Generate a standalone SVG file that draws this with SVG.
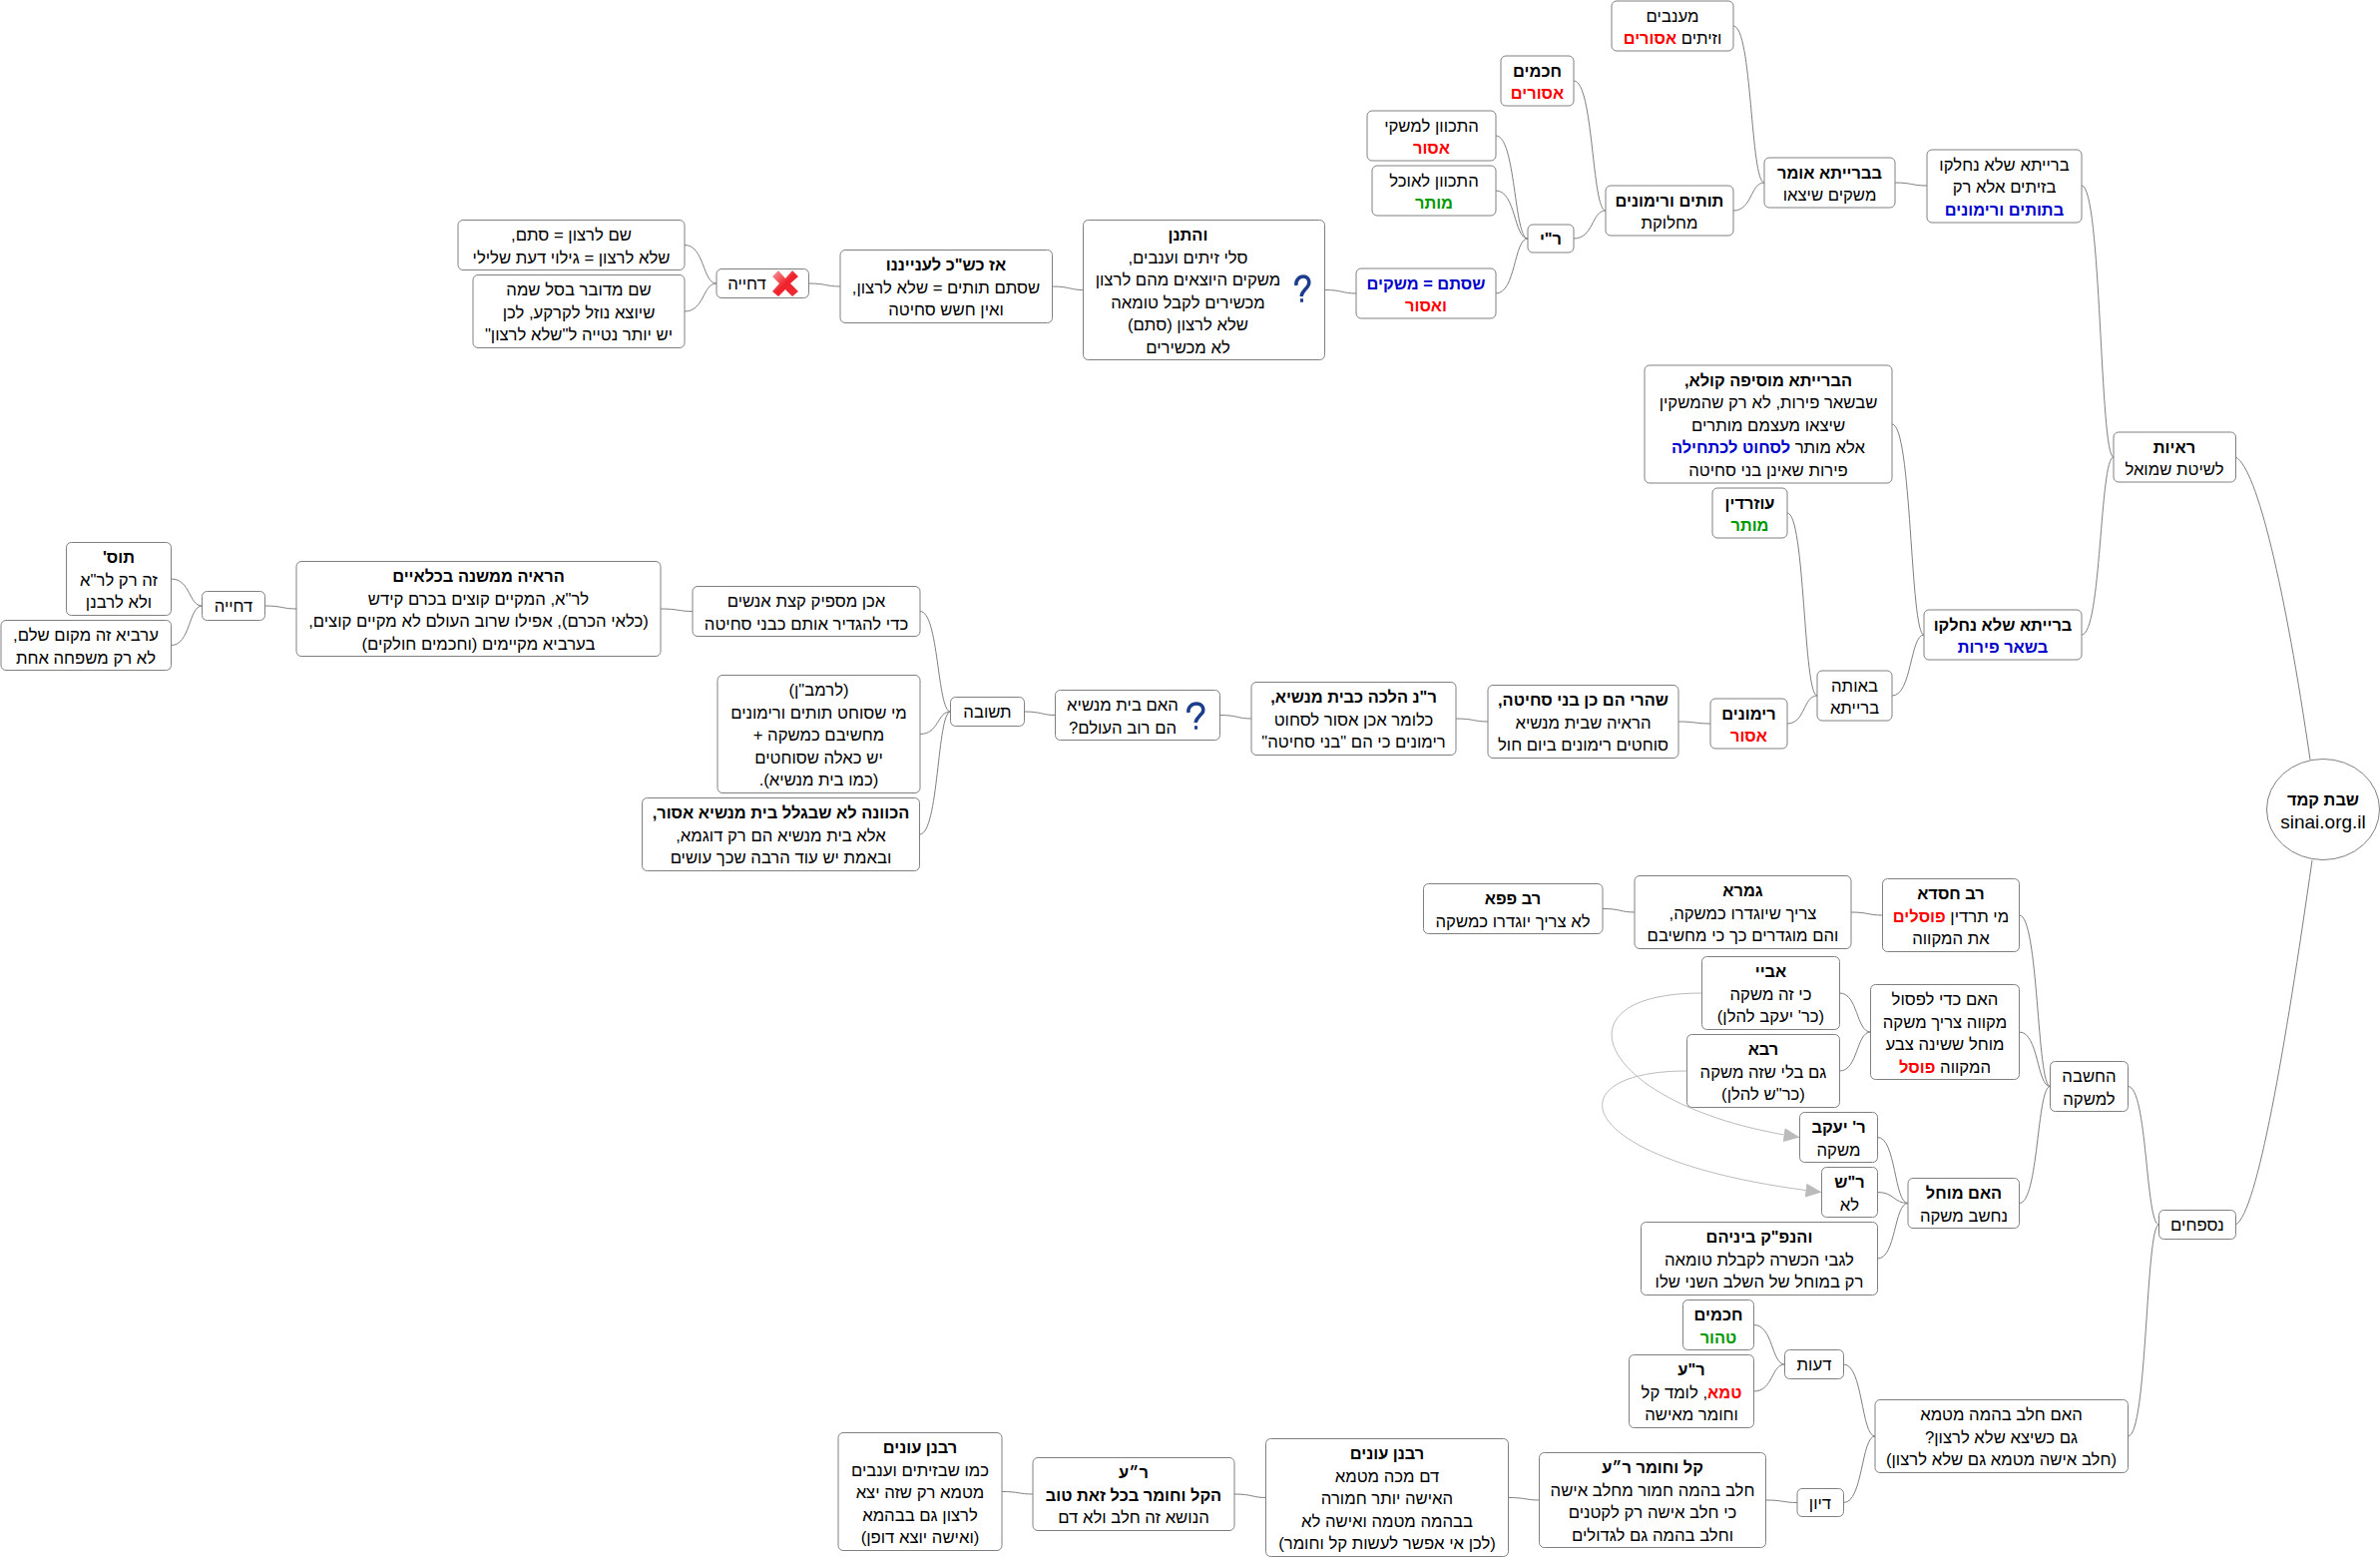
<svg xmlns="http://www.w3.org/2000/svg" width="2385" height="1560" viewBox="0 0 2385 1560">
<defs>
<style>
text{font-family:"Liberation Sans",Arial,sans-serif;font-size:16.7px;fill:#000;text-anchor:middle;direction:rtl;transform:translateY(-1px)}
.b{font-weight:bold;font-size:16.4px}
.r{fill:#f00}
.g{fill:#090}
.u{fill:#00c}
.n{fill:#fff;stroke:#808080;stroke-width:1}
.c{fill:none;stroke:#808080;stroke-width:1}
.a{fill:none;stroke:#bbb;stroke-width:1}
</style>
<marker id="ah" markerUnits="userSpaceOnUse" markerWidth="16" markerHeight="14" refX="16" refY="7" orient="auto"><path d="M0 0L16 7L0 14Z" fill="#bbb"/></marker>
<linearGradient id="xg" x1="0" y1="0" x2="1" y2="1"><stop offset="0" stop-color="#f6a0a6"/><stop offset="0.5" stop-color="#f0222c"/><stop offset="1" stop-color="#e8303a"/></linearGradient>
</defs>
<rect width="2385" height="1560" fill="#fff"/>
<g id="connectors">
<path class="c" d="M1737 26C1756 26 1754 183 1768 183"/>
<path class="c" d="M1737 211C1756 211 1754 183 1768 183"/>
<path class="c" d="M1577 81C1597 81 1595 211 1609 211"/>
<path class="c" d="M1577 239C1597 239 1595 211 1609 211"/>
<path class="c" d="M1499 136C1519 136 1517 239 1531 239"/>
<path class="c" d="M1499 191C1519 191 1517 239 1531 239"/>
<path class="c" d="M1499 294C1519 294 1517 239 1531 239"/>
<path class="c" d="M1899 183C1916 183 1916 186 1931 186"/>
<path class="c" d="M2086 186C2106 186 2104 458 2118 458"/>
<path class="c" d="M2086 636C2106 636 2104 458 2118 458"/>
<path class="c" d="M1896 425C1916 425 1914 636 1928 636"/>
<path class="c" d="M1896 697C1916 697 1914 636 1928 636"/>
<path class="c" d="M1791 514C1809 514 1807 697 1821 697"/>
<path class="c" d="M1791 725C1809 725 1807 697 1821 697"/>
<path class="c" d="M1682 723C1699 723 1699 725 1714 725"/>
<path class="c" d="M1459 720C1477 720 1477 723 1491 723"/>
<path class="c" d="M1222.5 716.5C1240 716.5 1240 720 1254 720"/>
<path class="c" d="M1026.5 713C1044 713 1044 716.5 1057.5 716.5"/>
<path class="c" d="M922 612.5C941 612.5 939 713 952.5 713"/>
<path class="c" d="M922 735.5C941 735.5 939 713 952.5 713"/>
<path class="c" d="M921.5 836C941 836 939 713 952.5 713"/>
<path class="c" d="M662 610C680 610 680 612.5 694 612.5"/>
<path class="c" d="M265.5 607C283 607 283 610 297 610"/>
<path class="c" d="M171.5 580C191 580 189 607 202.5 607"/>
<path class="c" d="M171.5 646.5C191 646.5 189 607 202.5 607"/>
<path class="c" d="M1327.5 290.5C1345 290.5 1345 294 1359 294"/>
<path class="c" d="M1054.5 287C1072 287 1072 290.5 1085.5 290.5"/>
<path class="c" d="M810.5 284C828 284 828 287 842 287"/>
<path class="c" d="M686 245.5C706 245.5 704 284 718 284"/>
<path class="c" d="M686 312C706 312 704 284 718 284"/>
<path class="c" d="M2023.5 917C2043 917 2041 1088.5 2054.5 1088.5"/>
<path class="c" d="M2023.5 1034C2043 1034 2041 1088.5 2054.5 1088.5"/>
<path class="c" d="M2023.5 1205.5C2043 1205.5 2041 1088.5 2054.5 1088.5"/>
<path class="c" d="M1855 914C1872 914 1872 917 1886.5 917"/>
<path class="c" d="M1606 910.5C1624 910.5 1624 914 1638 914"/>
<path class="c" d="M1843.5 995C1862 995 1860 1034 1874.5 1034"/>
<path class="c" d="M1843.5 1073C1862 1073 1860 1034 1874.5 1034"/>
<path class="c" d="M1881.5 1139.5C1900 1139.5 1898 1205.5 1912 1205.5"/>
<path class="c" d="M1881.5 1194.5C1898 1194.5 1898 1205.5 1912 1205.5"/>
<path class="c" d="M1881.5 1261C1900 1261 1898 1205.5 1912 1205.5"/>
<path class="c" d="M2132.5 1088.5C2152 1088.5 2150 1227 2163.5 1227"/>
<path class="c" d="M2132.5 1439C2152 1439 2150 1227 2163.5 1227"/>
<path class="c" d="M1847.5 1367C1867 1367 1865 1439 1879 1439"/>
<path class="c" d="M1847.5 1505.5C1867 1505.5 1865 1439 1879 1439"/>
<path class="c" d="M1757.5 1327.5C1777 1327.5 1775 1367 1788.5 1367"/>
<path class="c" d="M1757.5 1394C1777 1394 1775 1367 1788.5 1367"/>
<path class="c" d="M1769.5 1503C1787 1503 1787 1505.5 1801 1505.5"/>
<path class="c" d="M1511.5 1500.5C1529 1500.5 1529 1503 1542.5 1503"/>
<path class="c" d="M1237 1497C1255 1497 1255 1500.5 1268.5 1500.5"/>
<path class="c" d="M1004 1494.5C1021 1494.5 1021 1497 1035 1497"/>
<path class="c" d="M2240.5 458C2262 470 2290 590 2315 761"/>
<path class="c" d="M2240.5 1227C2262 1215 2290 1050 2317 862"/>
<path class="a" marker-end="url(#ah)" d="M1705.5 995C1550 995 1603 1110 1803.5 1139.5"/>
<path class="a" marker-end="url(#ah)" d="M1690.5 1073C1553 1073 1572 1165 1825.5 1194.5"/>
</g>
<g id="root"><ellipse class="n" cx="2328" cy="811" rx="56.5" ry="50.5"/><text class="b" x="2328" y="808">שבת קמד</text><text x="2328" y="831" style="direction:ltr;font-size:19px">sinai.org.il</text></g>
<g id="n1"><rect class="n" x="1615" y="1" width="122" height="50" rx="5"/><text x="1676" y="22.5">מענבים</text><text x="1676" y="45">וזיתים <tspan class="r b">אסורים</tspan></text></g>
<g id="n2"><rect class="n" x="1504" y="56" width="73" height="50" rx="5"/><text class="b" x="1540.5" y="77.5">חכמים</text><text class="r b" x="1540.5" y="100">אסורים</text></g>
<g id="n3"><rect class="n" x="1370" y="111" width="129" height="50" rx="5"/><text x="1434.5" y="132.5">התכוון למשקי</text><text class="r b" x="1434.5" y="155">אסור</text></g>
<g id="n4"><rect class="n" x="1375" y="166" width="124" height="50" rx="5"/><text x="1437" y="187.5">התכוון לאוכל</text><text class="g b" x="1437" y="210">מותר</text></g>
<g id="n5"><rect class="n" x="1531" y="225" width="46" height="28" rx="5"/><text class="b" x="1554" y="245.5">ר"י</text></g>
<g id="n6"><rect class="n" x="1609" y="186" width="128" height="50" rx="5"/><text class="b" x="1673" y="207.5">תותים ורימונים</text><text x="1673" y="230">מחלוקת</text></g>
<g id="n7"><rect class="n" x="1768" y="158" width="131" height="50" rx="5"/><text class="b" x="1833.5" y="179.5">בברייתא אומר</text><text x="1833.5" y="202">משקים שיצאו</text></g>
<g id="n8"><rect class="n" x="1931" y="150" width="155" height="73" rx="5"/><text x="2008.5" y="171.5">ברייתא שלא נחלקו</text><text x="2008.5" y="194">בזיתים אלא רק</text><text class="u b" x="2008.5" y="216.5">בתותים ורימונים</text></g>
<g id="n9"><rect class="n" x="1359" y="269" width="140" height="50" rx="5"/><text class="u b" x="1429" y="290.5">שסתם = משקים</text><text class="r b" x="1429" y="313">ואסור</text></g>
<g id="n10"><rect class="n" x="1648" y="366" width="248" height="118" rx="5"/><text class="b" x="1772" y="387.5">הברייתא מוסיפה קולא,</text><text x="1772" y="410">שבשאר פירות, לא רק שהמשקין</text><text x="1772" y="432.5">שיצאו מעצמם מותרים</text><text x="1772" y="455">אלא מותר <tspan class="u b">לסחוט לכתחילה</tspan></text><text x="1772" y="477.5">פירות שאינן בני סחיטה</text></g>
<g id="n11"><rect class="n" x="1716" y="489" width="75" height="50" rx="5"/><text class="b" x="1753.5" y="510.5">עוזרדין</text><text class="g b" x="1753.5" y="533">מותר</text></g>
<g id="n12"><rect class="n" x="1928" y="611" width="158" height="50" rx="5"/><text class="b" x="2007" y="632.5">ברייתא שלא נחלקו</text><text class="u b" x="2007" y="655">בשאר פירות</text></g>
<g id="n13"><rect class="n" x="2118" y="433" width="122.5" height="50" rx="5"/><text class="b" x="2179" y="454.5">ראיות</text><text x="2179" y="477">לשיטת שמואל</text></g>
<g id="n14"><rect class="n" x="1821" y="672" width="75" height="50" rx="5"/><text x="1858.5" y="693.5">באותה</text><text x="1858.5" y="716">ברייתא</text></g>
<g id="n15"><rect class="n" x="1714" y="700" width="77" height="50" rx="5"/><text class="b" x="1752.5" y="721.5">רימונים</text><text class="r b" x="1752.5" y="744">אסור</text></g>
<g id="n16"><rect class="n" x="1491" y="686.5" width="191" height="73" rx="5"/><text class="b" x="1586.5" y="708">שהרי הם כן בני סחיטה,</text><text x="1586.5" y="730.5">הראיה שבית מנשיא</text><text x="1586.5" y="753">סוחטים רימונים ביום חול</text></g>
<g id="n17"><rect class="n" x="1254" y="683.5" width="205" height="73" rx="5"/><text class="b" x="1356.5" y="705">ר"נ הלכה כבית מנשיא,</text><text x="1356.5" y="727.5">כלומר אכן אסור לסחוט</text><text x="1356.5" y="750">רימונים כי הם "בני סחיטה"</text></g>
<g id="n18"><rect class="n" x="1057.5" y="691.5" width="165" height="50" rx="5"/><path d="M1191 714C1190 709 1194 705 1199 705C1205 705 1207 710 1205 714C1203 717 1199 719 1198 724M1197 729h3" fill="none" stroke="#1c3c8c" stroke-width="3.5"/><text x="1125" y="713">האם בית מנשיא</text><text x="1125" y="735.5">הם רוב העולם?</text></g>
<g id="n19"><rect class="n" x="952.5" y="698.5" width="74" height="29" rx="5"/><text x="989.5" y="720">תשובה</text></g>
<g id="n20"><rect class="n" x="694" y="587.5" width="228" height="50" rx="5"/><text x="808" y="609">אכן מספיק קצת אנשים</text><text x="808" y="631.5">כדי להגדיר אותם כבני סחיטה</text></g>
<g id="n21"><rect class="n" x="719" y="676.5" width="203" height="118" rx="5"/><text x="820.5" y="698">(לרמב"ן)</text><text x="820.5" y="720.5">מי שסוחט תותים ורימונים</text><text x="820.5" y="743">מחשיבם כמשקה +</text><text x="820.5" y="765.5">יש כאלה שסוחטים</text><text x="820.5" y="788">(כמו בית מנשיא).</text></g>
<g id="n22"><rect class="n" x="643.5" y="799.5" width="278" height="73" rx="5"/><text class="b" x="782.5" y="821">הכוונה לא שבגלל בית מנשיא אסור,</text><text x="782.5" y="843.5">אלא בית מנשיא הם רק דוגמא,</text><text x="782.5" y="866">ובאמת יש עוד הרבה שכך עושים</text></g>
<g id="n23"><rect class="n" x="297" y="562.5" width="365" height="95" rx="5"/><text class="b" x="479.5" y="584">הראיה ממשנה בכלאיים</text><text x="479.5" y="606.5">לר"א, המקיים קוצים בכרם קידש</text><text x="479.5" y="629">(כלאי הכרם), אפילו שרוב העולם לא מקיים קוצים,</text><text x="479.5" y="651.5">בערביא מקיימים (וחכמים חולקים)</text></g>
<g id="n24"><rect class="n" x="202.5" y="592.5" width="63" height="29" rx="5"/><text x="234" y="614">דחייה</text></g>
<g id="n25"><rect class="n" x="66.5" y="543.5" width="105" height="73" rx="5"/><text class="b" x="119" y="565">תוס'</text><text x="119" y="587.5">זה רק לר"א</text><text x="119" y="610">ולא לרבנן</text></g>
<g id="n26"><rect class="n" x="1" y="621.5" width="170.5" height="50" rx="5"/><text x="86" y="643">ערביא זה מקום שלם,</text><text x="86" y="665.5">לא רק משפחה אחת</text></g>
<g id="n27"><rect class="n" x="1085.5" y="220.5" width="242" height="140" rx="5"/><path d="M1299 286C1298 281 1302 277 1306 277C1311 277 1313 282 1311 286C1309 290 1305 291 1304 297M1303 301h3" fill="none" stroke="#1c3c8c" stroke-width="3.5"/><text class="b" x="1190.5" y="242">והתנן</text><text x="1190.5" y="264.5">סלי זיתים וענבים,</text><text x="1190.5" y="287">משקים היוצאים מהם לרצון</text><text x="1190.5" y="309.5">מכשירים לקבל טומאה</text><text x="1190.5" y="332">שלא לרצון (סתם)</text><text x="1190.5" y="354.5">לא מכשירים</text></g>
<g id="n28"><rect class="n" x="842" y="250.5" width="212.5" height="73" rx="5"/><text class="b" x="948" y="272">אז כש"כ לענייננו</text><text x="948" y="294.5">שסתם תותים = שלא לרצון,</text><text x="948" y="317">ואין חשש סחיטה</text></g>
<g id="n29"><rect class="n" x="718" y="269.5" width="92.5" height="29" rx="5"/><path d="M774 277L780 271L787 279L794 271L800 277L792 284L800 292L794 297L787 290L780 297L774 292L781 284Z" fill="url(#xg)"/><text x="748.5" y="291">דחייה</text></g>
<g id="n30"><rect class="n" x="459" y="220.5" width="227" height="50" rx="5"/><text x="572.5" y="242">שם לרצון = סתם,</text><text x="572.5" y="264.5">שלא לרצון = גילוי דעת שלילי</text></g>
<g id="n31"><rect class="n" x="474" y="275.5" width="212" height="73" rx="5"/><text x="580" y="297">שם מדובר בסל שמה</text><text x="580" y="319.5">שיוצא נוזל לקרקע, לכן</text><text x="580" y="342">יש יותר נטייה ל"שלא לרצון"</text></g>
<g id="n32"><rect class="n" x="1886.5" y="880.5" width="137" height="73" rx="5"/><text class="b" x="1955" y="902">רב חסדא</text><text x="1955" y="924.5">מי תרדין <tspan class="r b">פוסלים</tspan></text><text x="1955" y="947">את המקווה</text></g>
<g id="n33"><rect class="n" x="1638" y="877.5" width="217" height="73" rx="5"/><text class="b" x="1746.5" y="899">גמרא</text><text x="1746.5" y="921.5">צריך שיוגדרו כמשקה,</text><text x="1746.5" y="944">והם מוגדרים כך כי מחשיבם</text></g>
<g id="n34"><rect class="n" x="1426.5" y="885.5" width="179.5" height="50" rx="5"/><text class="b" x="1516" y="907">רב פפא</text><text x="1516" y="929.5">לא צריך יוגדרו כמשקה</text></g>
<g id="n35"><rect class="n" x="1874.5" y="986.5" width="149" height="95" rx="5"/><text x="1949" y="1008">האם כדי לפסול</text><text x="1949" y="1030.5">מקווה צריך משקה</text><text x="1949" y="1053">מוחל ששינה צבע</text><text x="1949" y="1075.5">המקווה <tspan class="r b">פוסל</tspan></text></g>
<g id="n36"><rect class="n" x="1705.5" y="958.5" width="138" height="73" rx="5"/><text class="b" x="1774.5" y="980">אביי</text><text x="1774.5" y="1002.5">כי זה משקה</text><text x="1774.5" y="1025">(כר' יעקב להלן)</text></g>
<g id="n37"><rect class="n" x="1690.5" y="1036.5" width="153" height="73" rx="5"/><text class="b" x="1767" y="1058">רבא</text><text x="1767" y="1080.5">גם בלי שזה משקה</text><text x="1767" y="1103">(כר"ש להלן)</text></g>
<g id="n38"><rect class="n" x="2054.5" y="1063.5" width="78" height="50" rx="5"/><text x="2093.5" y="1085">החשבה</text><text x="2093.5" y="1107.5">למשקה</text></g>
<g id="n39"><rect class="n" x="1803.5" y="1114.5" width="78" height="50" rx="5"/><text class="b" x="1842.5" y="1136">ר' יעקב</text><text x="1842.5" y="1158.5">משקה</text></g>
<g id="n40"><rect class="n" x="1825.5" y="1169.5" width="56" height="50" rx="5"/><text class="b" x="1853.5" y="1191">ר"ש</text><text x="1853.5" y="1213.5">לא</text></g>
<g id="n41"><rect class="n" x="1912" y="1180.5" width="111.5" height="50" rx="5"/><text class="b" x="1968" y="1202">האם מוחל</text><text x="1968" y="1224.5">נחשב משקה</text></g>
<g id="n42"><rect class="n" x="1644.5" y="1224.5" width="237" height="73" rx="5"/><text class="b" x="1763" y="1246">והנפ"ק ביניהם</text><text x="1763" y="1268.5">לגבי הכשרה לקבלת טומאה</text><text x="1763" y="1291">רק במוחל של השלב השני שלו</text></g>
<g id="n43"><rect class="n" x="2163.5" y="1212.5" width="77" height="29" rx="5"/><text x="2202" y="1234">נספחים</text></g>
<g id="n44"><rect class="n" x="1686.5" y="1302.5" width="71" height="50" rx="5"/><text class="b" x="1722" y="1324">חכמים</text><text class="g b" x="1722" y="1346.5">טהור</text></g>
<g id="n45"><rect class="n" x="1632.5" y="1357.5" width="125" height="73" rx="5"/><text class="b" x="1695" y="1379">ר"ע</text><text x="1695" y="1401.5"><tspan class="r b">טמא</tspan>, לומד קל</text><text x="1695" y="1424">וחומר מאישה</text></g>
<g id="n46"><rect class="n" x="1788.5" y="1352.5" width="59" height="29" rx="5"/><text x="1818" y="1374">דעות</text></g>
<g id="n47"><rect class="n" x="1879" y="1402.5" width="253.5" height="73" rx="5"/><text x="2005.5" y="1424">האם חלב בהמה מטמא</text><text x="2005.5" y="1446.5">גם כשיצא שלא לרצון?</text><text x="2005.5" y="1469">(חלב אישה מטמא גם שלא לרצון)</text></g>
<g id="n48"><rect class="n" x="1801" y="1491.5" width="46.5" height="28" rx="5"/><text x="1824" y="1513">דיון</text></g>
<g id="n49"><rect class="n" x="1542.5" y="1455.5" width="227" height="95" rx="5"/><text class="b" x="1656" y="1477">קל וחומר ר״ע</text><text x="1656" y="1499.5">חלב בהמה חמור מחלב אישה</text><text x="1656" y="1522">כי חלב אישה רק לקטנים</text><text x="1656" y="1544.5">וחלב בהמה גם לגדולים</text></g>
<g id="n50"><rect class="n" x="1268.5" y="1441.5" width="243" height="118" rx="5"/><text class="b" x="1390" y="1463">רבנן עונים</text><text x="1390" y="1485.5">דם מכה מטמא</text><text x="1390" y="1508">האישה יותר חמורה</text><text x="1390" y="1530.5">בבהמה מטמה ואישה לא</text><text x="1390" y="1553">(לכן אי אפשר לעשות קל וחומר)</text></g>
<g id="n51"><rect class="n" x="1035" y="1460.5" width="202" height="73" rx="5"/><text class="b" x="1136" y="1482">ר״ע</text><text class="b" x="1136" y="1504.5">הקל וחומר בכל זאת טוב</text><text x="1136" y="1527">הנושא זה חלב ולא דם</text></g>
<g id="n52"><rect class="n" x="840" y="1435.5" width="164" height="118" rx="5"/><text class="b" x="922" y="1457">רבנן עונים</text><text x="922" y="1479.5">כמו שבזיתים וענבים</text><text x="922" y="1502">מטמא רק שזה יצא</text><text x="922" y="1524.5">לרצון גם בבהמא</text><text x="922" y="1547">(ואישה יוצא דופן)</text></g>
</svg>
